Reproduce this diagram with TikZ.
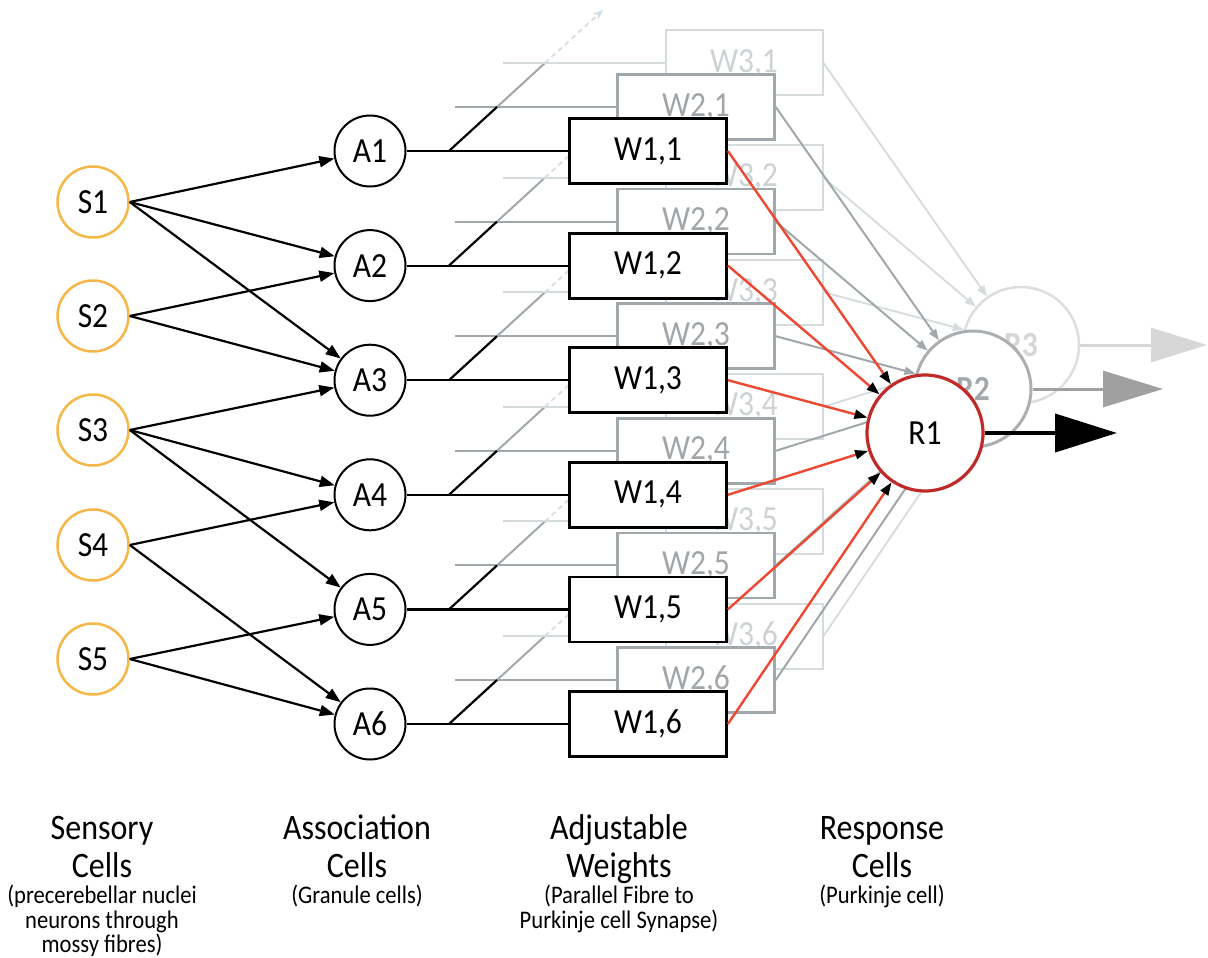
\documentclass[tikz,border=0pt]{standalone}
\usepackage{graphicx}
\usepackage{fontspec}
\setmainfont{Carlito}
\usetikzlibrary{arrows.meta}
\definecolor{sorange}{RGB}{247,182,72}
\definecolor{redln}{RGB}{236,72,50}
\definecolor{redcirc}{RGB}{192,42,40}
\definecolor{gtwo}{RGB}{160,168,172}
\definecolor{gtwotxt}{RGB}{160,166,170}
\definecolor{gthree}{RGB}{214,219,222}
\definecolor{gthreetxt}{RGB}{205,210,213}
\definecolor{gdash}{RGB}{212,222,230}
\definecolor{rtwo}{RGB}{172,175,178}
\definecolor{rtwotxt}{RGB}{165,168,170}
\definecolor{rthree}{RGB}{220,222,224}
\definecolor{rthreetxt}{RGB}{212,214,216}
\definecolor{outtwo}{RGB}{160,160,160}
\definecolor{outthree}{RGB}{215,215,215}
\newcommand\labbig{\fontsize{32}{38}\selectfont}
\newcommand\labsmall{\fontsize{22.6}{25}\selectfont}
\newcommand\nodefont{\fontsize{31.5}{36}\selectfont}
\newcommand\tallt[1]{\scalebox{1}[1.12]{#1}}
\begin{document}
\begin{tikzpicture}[x=1pt,y=-1pt,
  scell/.style={circle, draw=sorange, line width=2.5pt, minimum size=71pt, inner sep=0pt, fill=white, font=\nodefont},
  acell/.style={circle, draw=black, line width=2pt, minimum size=71pt, inner sep=0pt, fill=white, font=\nodefont},
  wbox/.style={rectangle, line width=2.5pt, minimum width=157pt, minimum height=65pt, inner sep=0pt, fill=white, font=\nodefont},
  wonebox/.style={wbox, draw=black, line width=2.8pt},
  wtwobox/.style={wbox, draw=gtwo, text=gtwotxt},
  wthreebox/.style={wbox, draw=gthree, text=gthreetxt, line width=2pt},
  rcell/.style={circle, minimum size=116pt, inner sep=0pt, fill=white, font=\nodefont},
  sa/.style={line width=2.2pt, -{Triangle[length=15pt,width=11pt]}},
  redarr/.style={redln, line width=2.4pt, -{Triangle[length=13pt,width=9pt,color=black]}},
  gtwoarr/.style={gtwo, line width=2pt, -{Triangle[length=11pt,width=8pt]}},
  gthreearr/.style={gthree, line width=1.8pt, -{Triangle[length=11pt,width=8pt]}},
  dashline/.style={gdash, line width=1.8pt, dash pattern=on 5pt off 4pt, -{Stealth[length=10pt,width=8pt]}},
  link/.style={line width=2.2pt}
]
\fill[white] (0,0) rectangle (1208,958);
\useasboundingbox (0,0) rectangle (1208,958);

% ---------- layer 3 (back) ----------
\node[rcell, draw=rthree, line width=2.5pt, text=rthreetxt, font=\nodefont\bfseries] (r3) at (1021,345) {\tallt{R3}};
\coordinate (o3) at (1207,345);
\draw[outthree, line width=3pt, -{Triangle[length=56pt,width=34pt]}] (r3.east) -- (o3);
\foreach \i in {1,...,6}{
  \pgfmathsetmacro\y{151+114.6*(\i-1)}
  \coordinate (d2-\i) at (497,\y-44);
  \coordinate (d3-\i) at (545,\y-88);
  \coordinate (d4-\i) at (603,\y-141);
  \coordinate (h3-\i) at (503,\y-88);
  \draw[dashline] (d3-\i) -- (d4-\i);
  \draw[gtwo, line width=2pt] (d2-\i) -- (d3-\i);
  \node[wthreebox] (w3-\i) at (744,\y-88) {\tallt{W3,\i}};
  \draw[gthree, line width=2pt] (h3-\i) -- (w3-\i.west);
  \draw[gthreearr] (w3-\i.east) -- (r3);
}

% ---------- layer 2 ----------
\node[rcell, draw=rtwo, line width=3pt, text=rtwotxt, font=\nodefont\bfseries] (r2) at (973,389) {\tallt{R2}};
\coordinate (o2) at (1163,389);
\draw[outtwo, line width=3pt, -{Triangle[length=60pt,width=36pt]}] (r2.east) -- (o2);
\foreach \i in {1,...,6}{
  \pgfmathsetmacro\y{151+114.6*(\i-1)}
  \coordinate (h2-\i) at (455,\y-44);
  \node[wtwobox] (w2-\i) at (696,\y-44) {\tallt{W2,\i}};
  \draw[gtwo, line width=2pt] (h2-\i) -- (w2-\i.west);
  \draw[gtwoarr] (w2-\i.east) -- (r2);
}

% ---------- layer 1 (front) ----------
\node[rcell, draw=redcirc, line width=3.2pt] (r1) at (925,433) {\tallt{R1}};
\coordinate (o1) at (1117,433);
\draw[line width=4pt, -{Triangle[length=62pt,width=38pt]}] (r1.east) -- (o1);

\node[scell] (s1) at (93,202) {\tallt{S1}};
\node[scell] (s2) at (93,316) {\tallt{S2}};
\node[scell] (s3) at (93,430) {\tallt{S3}};
\node[scell] (s4) at (93,545) {\tallt{S4}};
\node[scell] (s5) at (93,659) {\tallt{S5}};

\foreach \i in {1,...,6}{
  \pgfmathsetmacro\y{151+114.6*(\i-1)}
  \node[acell] (a\i) at (370,\y) {\tallt{A\i}};
  \node[wonebox] (w1-\i) at (648,\y) {\tallt{W1,\i}};
  \coordinate (d1-\i) at (449,\y);
  \draw[link] (a\i.east) -- (w1-\i.west);
  \draw[link] (d1-\i) -- (d2-\i);
  \draw[redarr] (w1-\i.east) -- (r1);
}

\draw[sa] (s1.east) -- (a1);
\draw[sa] (s1.east) -- (a2);
\draw[sa] (s1.east) -- (a3);
\draw[sa] (s2.east) -- (a2);
\draw[sa] (s2.east) -- (a3);
\draw[sa] (s3.east) -- (a3);
\draw[sa] (s3.east) -- (a4);
\draw[sa] (s3.east) -- (a5);
\draw[sa] (s4.east) -- (a4);
\draw[sa] (s4.east) -- (a6);
\draw[sa] (s5.east) -- (a5);
\draw[sa] (s5.east) -- (a6);

% ---------- bottom labels ----------
\node[anchor=base, font=\labbig] (ls1) at (102,839) {\tallt{Sensory}};
\node[anchor=base, font=\labbig] (ls2) at (102,877) {\tallt{Cells}};
\node[anchor=base, font=\labsmall] (ls3) at (102,903) {\tallt{(precerebellar nuclei}};
\node[anchor=base, font=\labsmall] (ls4) at (102,928) {\tallt{neurons through}};
\node[anchor=base, font=\labsmall] (ls5) at (102,952) {\tallt{mossy fibres)}};

\node[anchor=base, font=\labbig] (la1) at (357,839) {\tallt{Association}};
\node[anchor=base, font=\labbig] (la2) at (357,877) {\tallt{Cells}};
\node[anchor=base, font=\labsmall] (la3) at (357,903) {\tallt{(Granule cells)}};

\node[anchor=base, font=\labbig] (lw1) at (619,839) {\tallt{Adjustable}};
\node[anchor=base, font=\labbig] (lw2) at (619,877) {\tallt{Weights}};
\node[anchor=base, font=\labsmall] (lw3) at (619,903) {\tallt{(Parallel Fibre to}};
\node[anchor=base, font=\labsmall] (lw4) at (619,928) {\tallt{Purkinje cell Synapse)}};

\node[anchor=base, font=\labbig] (lr1) at (882,839) {\tallt{Response}};
\node[anchor=base, font=\labbig] (lr2) at (882,877) {\tallt{Cells}};
\node[anchor=base, font=\labsmall] (lr3) at (882,903) {\tallt{(Purkinje cell)}};
\end{tikzpicture}
\end{document}
